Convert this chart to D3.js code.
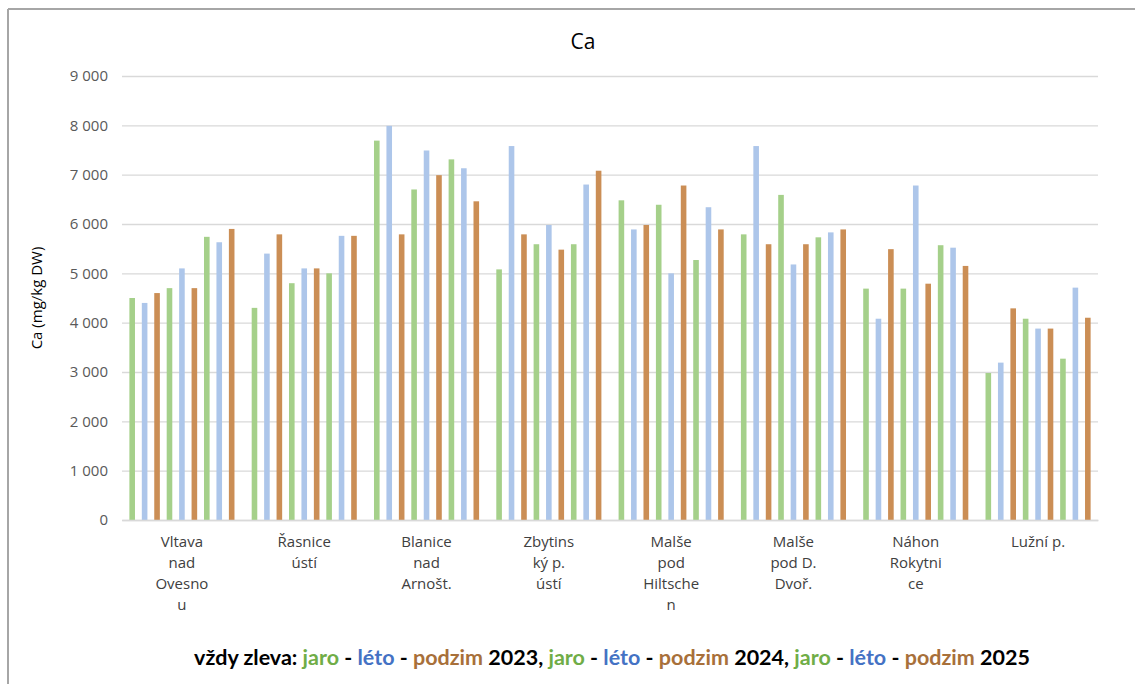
<!DOCTYPE html>
<html>
<head>
<meta charset="utf-8">
<script src="https://cdn.jsdelivr.net/npm/d3@7"></script>
<style>
  body { margin: 0; background: #fff; }
  text { font-family: "Lato", "Open Sans", sans-serif; }
</style>
</head>
<body>
<div id="chart"></div>
<script>
// data
var categories = ["Vltava nad Ovesnou", "Řasnice ústí", "Blanice nad Arnošt.", "Zbytinský p. ústí",
  "Malše pod Hiltschen", "Malše pod D. Dvoř.", "Náhon Rokytnice", "Lužní p."];
var categoryLines = [["Vltava", "nad", "Ovesno", "u"], ["Řasnice", "ústí"], ["Blanice", "nad", "Arnošt."],
  ["Zbytins", "ký p.", "ústí"], ["Malše", "pod", "Hiltsche", "n"], ["Malše", "pod D.", "Dvoř."],
  ["Náhon", "Rokytni", "ce"], ["Lužní p."]];
var seasons = ["jaro 2023", "léto 2023", "podzim 2023", "jaro 2024", "léto 2024", "podzim 2024",
  "jaro 2025", "léto 2025", "podzim 2025"];
var seasonKind = ["jaro", "léto", "podzim", "jaro", "léto", "podzim", "jaro", "léto", "podzim"];

var vltava   = [4500, 4400, 4600, 4700, 5100, 4700, 5740, 5630, 5900];
var rasnice  = [4300, 5400, 5790, 4800, 5100, 5100, 5000, 5760, 5760];
var blanice  = [7690, 7990, 5790, 6700, 7490, 6990, 7310, 7130, 6460];
var zbytinsky = [5080, 7580, 5790, 5590, 5980, 5480, 5590, 6800, 7080];
var malseHilt = [6480, 5890, 5980, 6390, 5000, 6780, 5270, 6340, 5890];
var malseDvor = [5790, 7580, 5590, 6590, 5180, 5590, 5730, 5830, 5890];
var nahon    = [4690, 4080, 5490, 4690, 6780, 4790, 5570, 5520, 5150];
var luzni    = [2980, 3190, 4290, 4080, 3880, 3880, 3270, 4710, 4100];
var values = [vltava, rasnice, blanice, zbytinsky, malseHilt, malseDvor, nahon, luzni];

var yTicks = [0, 1000, 2000, 3000, 4000, 5000, 6000, 7000, 8000, 9000];

var barColor = { "jaro": "#a5d08a", "léto": "#adc6ea", "podzim": "#cb8e55" };
var textColor = { "jaro": "#70ad47", "léto": "#4472c4", "podzim": "#a8703a" };

// svg set up
var svgWidth = 1135;
var svgHeight = 684;
var margin = { top: 76, right: 37, bottom: 164, left: 122 };
var width = svgWidth - margin.left - margin.right;
var height = svgHeight - margin.top - margin.bottom;

var svg = d3.select("#chart").append("svg")
  .attr("width", svgWidth)
  .attr("height", svgHeight);

// frame lines of the screenshot
svg.append("line").attr("x1", 8).attr("x2", svgWidth).attr("y1", 9).attr("y2", 9)
  .attr("stroke", "#a6a6a6").attr("stroke-width", 2);
svg.append("line").attr("x1", 8).attr("x2", 8).attr("y1", 9).attr("y2", svgHeight)
  .attr("stroke", "#a6a6a6").attr("stroke-width", 2);

var chartGroup = svg.append("g")
  .attr("transform", `translate(${margin.left}, ${margin.top})`);

var x0 = d3.scaleBand().domain(categories).range([0, width]).paddingInner(0.1).paddingOuter(0.04);
var x1 = d3.scaleBand().domain(seasons).range([0, x0.bandwidth()]).paddingInner(0.55).paddingOuter(0.2);
var y = d3.scaleLinear().domain([0, 9000]).range([height, 0]);

// gridlines
chartGroup.append("g")
  .call(d3.axisLeft(y).tickValues(yTicks).tickSize(-width).tickFormat(""))
  .call(g => g.select(".domain").remove())
  .call(g => g.selectAll("line").attr("stroke", "#d9d9d9").attr("stroke-width", 1.3));

// y tick labels
var fmt = d => d3.format(",")(d).replace(/,/g, " ");
chartGroup.append("g")
  .call(d3.axisLeft(y).tickValues(yTicks).tickSize(0).tickPadding(14).tickFormat(fmt))
  .call(g => g.select(".domain").remove())
  .call(g => g.selectAll("text").attr("fill", "#595959").style("font-size", "15px")
    .style("font-family", "Open Sans"));

// bars
var groups = chartGroup.selectAll(".grp")
  .data(categories)
  .enter()
  .append("g")
  .attr("class", "grp")
  .attr("transform", d => `translate(${x0(d)}, 0)`);

groups.selectAll("rect")
  .data((d, i) => values[i].map((v, j) => ({ season: seasons[j], kind: seasonKind[j], value: v })))
  .enter()
  .append("rect")
  .attr("x", d => x1(d.season))
  .attr("width", x1.bandwidth())
  .attr("y", d => y(d.value))
  .attr("height", d => height - y(d.value))
  .attr("fill", d => barColor[d.kind]);

// category labels
var xAxis = chartGroup.append("g")
  .attr("transform", `translate(0, ${height})`)
  .call(d3.axisBottom(x0).tickSize(0).tickFormat(""));
xAxis.select(".domain").attr("stroke", "#d9d9d9").attr("stroke-width", 1.3);

categories.forEach(function(c, i) {
  var t = chartGroup.append("text")
    .attr("x", x0(c) + x0.bandwidth() / 2)
    .attr("y", height + 27)
    .attr("text-anchor", "middle")
    .attr("fill", "#404040")
    .style("font-size", "15px")
    .style("font-family", "Open Sans");
  categoryLines[i].forEach(function(line, k) {
    t.append("tspan")
      .attr("x", x0(c) + x0.bandwidth() / 2)
      .attr("dy", k === 0 ? 0 : 21)
      .text(line);
  });
});

// title
svg.append("text")
  .attr("x", 583)
  .attr("y", 49)
  .attr("text-anchor", "middle")
  .attr("fill", "#000")
  .style("font-size", "21px")
  .style("font-family", "Open Sans")
  .text("Ca");

// y axis label
svg.append("text")
  .attr("transform", `translate(42, ${margin.top + height / 2})rotate(-90)`)
  .attr("text-anchor", "middle")
  .attr("fill", "#000")
  .style("font-size", "15px")
  .style("font-family", "Open Sans")
  .text("Ca (mg/kg DW)");

// colored note under the chart
var note = [["vždy zleva: ", null]];
["2023", "2024", "2025"].forEach(function(yr, i) {
  note.push(["jaro", "jaro"], [" - ", null], ["léto", "léto"], [" - ", null], ["podzim", "podzim"]);
  note.push([" " + yr + (i < 2 ? ", " : ""), null]);
});
var noteText = svg.append("text")
  .attr("x", 612)
  .attr("y", 665)
  .attr("text-anchor", "middle")
  .style("font-size", "21.5px")
  .style("font-weight", "bold")
  .attr("xml:space", "preserve");
note.forEach(function(n) {
  noteText.append("tspan")
    .attr("fill", n[1] ? textColor[n[1]] : "#000")
    .text(n[0]);
});
</script>
</body>
</html>
